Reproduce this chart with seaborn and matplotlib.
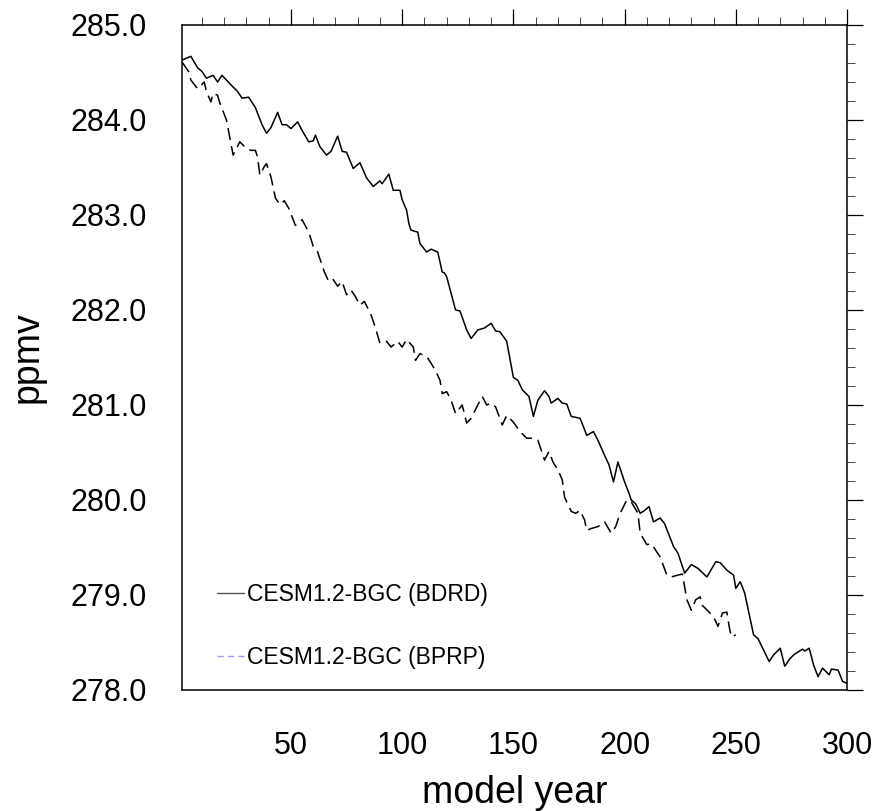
import matplotlib
matplotlib.use("Agg")
import matplotlib.pyplot as plt
from matplotlib.lines import Line2D
from matplotlib.ticker import MultipleLocator, FormatStrFormatter
import seaborn as sns
import pandas as pd

# ---- data ----
bdrd_years = [1, 3, 5, 8, 10, 12, 15, 17, 19, 23, 26, 28, 31, 34, 37, 39, 41, 44, 46, 48,
              50, 53, 55, 58, 60, 61, 63, 66, 68, 71, 73, 75, 78, 81, 84, 87, 90, 91, 94, 96,
              99, 100, 102, 103, 104, 107, 108, 111, 113, 116, 118, 119, 120, 124, 126, 129,
              131, 134, 137, 140, 142, 144, 147, 150, 152, 154, 157, 159, 161, 164, 166, 167,
              170, 172, 174, 176, 180, 183, 186, 188, 191, 193, 195, 197, 200, 202, 203, 205,
              207, 209, 211, 213, 216, 218, 222, 224, 226, 227, 230, 233, 237, 241, 243, 246,
              249, 250, 252, 254, 258, 260, 265, 267, 270, 272, 274, 276, 280, 281, 283, 285,
              287, 289, 292, 293, 296, 298, 300]
bdrd_ppmv = [284.63, 284.65, 284.67, 284.55, 284.51, 284.44, 284.47, 284.40, 284.47, 284.37,
             284.30, 284.23, 284.24, 284.13, 283.95, 283.86, 283.92, 284.08, 283.95, 283.95,
             283.91, 283.98, 283.89, 283.77, 283.78, 283.84, 283.72, 283.63, 283.67, 283.83,
             283.67, 283.66, 283.49, 283.55, 283.39, 283.30, 283.36, 283.33, 283.43, 283.26,
             283.26, 283.16, 283.05, 282.91, 282.84, 282.82, 282.70, 282.61, 282.64, 282.61,
             282.40, 282.39, 282.35, 282.00, 281.99, 281.79, 281.70, 281.79, 281.81, 281.86,
             281.78, 281.77, 281.67, 281.29, 281.26, 281.16, 281.09, 280.88, 281.05, 281.15,
             281.09, 281.02, 281.07, 281.02, 281.01, 280.88, 280.86, 280.68, 280.72, 280.63,
             280.47, 280.37, 280.19, 280.40, 280.19, 280.07, 280.00, 279.96, 279.86, 279.89,
             279.93, 279.77, 279.81, 279.75, 279.51, 279.44, 279.30, 279.23, 279.32, 279.28,
             279.19, 279.35, 279.34, 279.26, 279.21, 279.07, 279.14, 279.02, 278.58, 278.54,
             278.30, 278.37, 278.44, 278.25, 278.32, 278.37, 278.43, 278.41, 278.44, 278.26,
             278.14, 278.23, 278.16, 278.22, 278.21, 278.09, 278.07]

bprp_years = [1, 4, 5, 8, 9, 11, 12, 14, 15, 17, 18, 21, 24, 27, 30, 32, 34, 35, 36, 38, 39,
              41, 43, 45, 47, 49, 52, 55, 58, 60, 62, 65, 67, 69, 71, 73, 75, 77, 79, 81, 83,
              86, 88, 90, 93, 95, 98, 100, 102, 105, 106, 108, 111, 113, 115, 117, 118, 120,
              122, 124, 127, 129, 131, 134, 136, 138, 140, 142, 145, 147, 150, 153, 156, 159,
              161, 164, 166, 168, 170, 172, 173, 176, 178, 180, 182, 183, 185, 188, 190, 191,
              194, 196, 198, 201, 203, 206, 207, 210, 212, 216, 219, 221, 224, 226, 228, 230,
              232, 234, 235, 238, 240, 242, 244, 246, 247, 248, 250]
bprp_ppmv = [284.61, 284.51, 284.42, 284.33, 284.35, 284.40, 284.30, 284.19, 284.28, 284.26,
             284.18, 284.00, 283.63, 283.77, 283.70, 283.68, 283.68, 283.61, 283.42, 283.51,
             283.54, 283.40, 283.18, 283.11, 283.15, 283.07, 282.89, 282.95, 282.82, 282.67,
             282.61, 282.40, 282.30, 282.32, 282.25, 282.30, 282.16, 282.21, 282.14, 282.05,
             282.09, 281.95, 281.81, 281.65, 281.67, 281.61, 281.67, 281.61, 281.69, 281.61,
             281.47, 281.54, 281.51, 281.44, 281.36, 281.26, 281.12, 281.14, 281.05, 280.91,
             281.00, 280.81, 280.86, 281.00, 281.09, 281.00, 281.02, 280.98, 280.79, 280.89,
             280.82, 280.72, 280.65, 280.65, 280.63, 280.42, 280.51, 280.39, 280.32, 280.21,
             280.03, 279.88, 279.86, 279.89, 279.79, 279.68, 279.70, 279.72, 279.75, 279.77,
             279.65, 279.72, 279.86, 280.00, 279.98, 279.86, 279.65, 279.53, 279.54, 279.40,
             279.21, 279.19, 279.21, 279.22, 278.95, 278.84, 278.95, 278.98, 278.89, 278.82,
             278.77, 278.67, 278.81, 278.82, 278.67, 278.56, 278.58]

series_labels = ["CESM1.2-BGC (BDRD)", "CESM1.2-BGC (BPRP)"]
x_ticks = [50, 100, 150, 200, 250, 300]
y_ticks = [278.0, 279.0, 280.0, 281.0, 282.0, 283.0, 284.0, 285.0]

# ---- plotting ----
sns.set_theme(style="white")
plt.rcParams["font.family"] = ["Liberation Sans", "DejaVu Sans"]
plt.rcParams["text.color"] = "black"
plt.rcParams["axes.labelcolor"] = "black"
plt.rcParams["xtick.color"] = "black"
plt.rcParams["ytick.color"] = "black"

fig = plt.figure(figsize=(8.77, 8.11), dpi=100)
ax = fig.add_axes([0.2075, 0.1492, 0.7583, 0.82])

df1 = pd.DataFrame({"year": bdrd_years, "ppmv": bdrd_ppmv})
df2 = pd.DataFrame({"year": bprp_years, "ppmv": bprp_ppmv})
sns.lineplot(data=df1, x="year", y="ppmv", ax=ax, color="black", lw=1.1, legend=False)
sns.lineplot(data=df2, x="year", y="ppmv", ax=ax, color="black", lw=1.1, legend=False,
             dashes=False)
ax.lines[-1].set_dashes([8, 4])

ax.set_xlim(1, 300)
ax.set_ylim(278.0, 285.0)
ax.xaxis.set_major_locator(plt.FixedLocator(x_ticks))
ax.xaxis.set_minor_locator(MultipleLocator(10))
ax.yaxis.set_major_locator(plt.FixedLocator(y_ticks))
ax.yaxis.set_minor_locator(MultipleLocator(0.2))
ax.yaxis.set_major_formatter(FormatStrFormatter("%.1f"))

for sp in ax.spines.values():
    sp.set_linewidth(1.1)
    sp.set_color("black")

ax.tick_params(axis="both", which="major", direction="out", length=11.5, width=0.9,
               color="black", labelcolor="black", labelsize=22, top=True, right=True,
               labeltop=False, labelright=False)
ax.tick_params(axis="both", which="minor", direction="out", length=5.8, width=0.7,
               color="#444444", top=True, right=True)
ax.tick_params(axis="x", which="major", pad=18)
ax.tick_params(axis="y", which="major", pad=14)

ax.set_xlabel("model year", fontsize=27, color="black")
ax.set_ylabel("ppmv", fontsize=27, color="black")
ax.xaxis.set_label_coords(0.5, -0.128)
ax.yaxis.set_label_coords(-0.205, 0.5)

handles = [Line2D([], [], color="#555555", lw=1.0),
           Line2D([], [], color="#b48cff", lw=1.0, dashes=[4.5, 3])]
ax.legend(handles, series_labels, loc="upper left", bbox_to_anchor=(0.052, 0.1615),
          frameon=False, fontsize=16.5, handlelength=1.2, handletextpad=0.12,
          labelspacing=1.75, borderaxespad=0, borderpad=0)

fig.savefig("out.png", dpi=100)
